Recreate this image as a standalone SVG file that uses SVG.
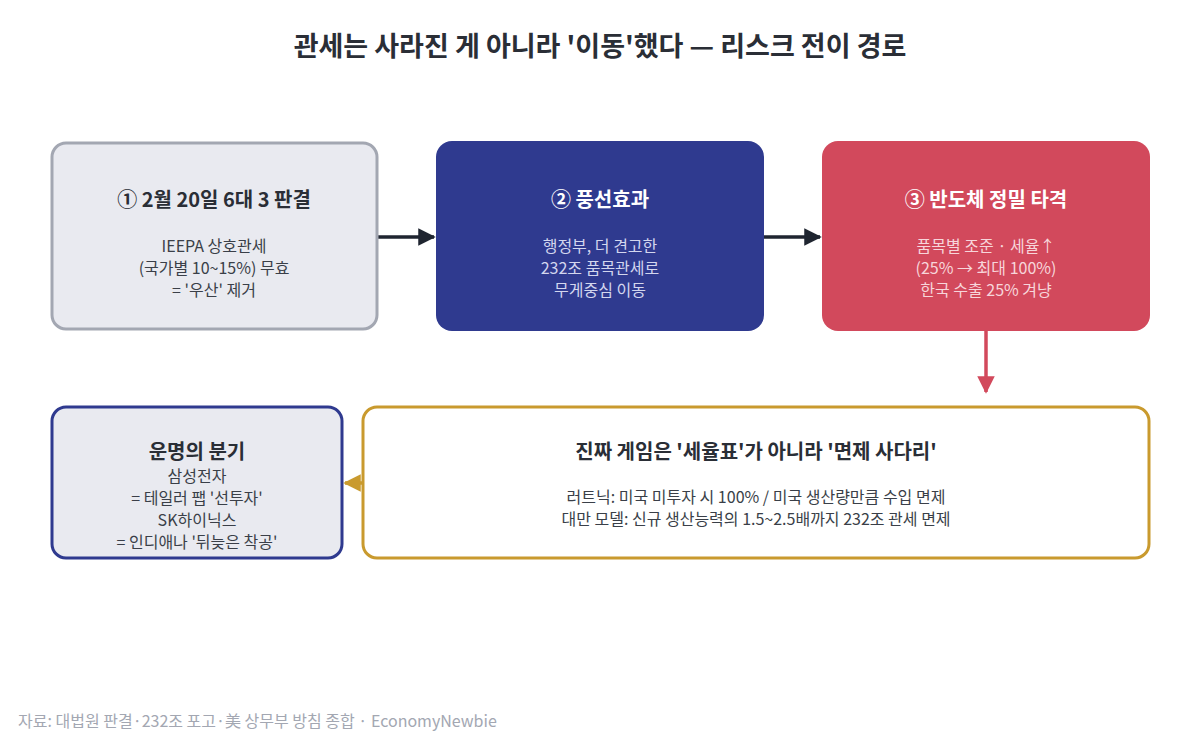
<svg xmlns="http://www.w3.org/2000/svg" width="1200" height="742" viewBox="0 0 1200 742">
<defs>
<style>
text{font-family:"Noto Sans CJK KR","Noto Sans",sans-serif;text-anchor:middle}
.title{font-size:27px;font-weight:700;fill:#2a2e36}
.h{font-size:20px;font-weight:700}
.b{font-size:16px}
.dark{fill:#2a2e36}
.body{fill:#3a3f48}
.w{fill:#ffffff}
.lav{fill:#d3d6ee}
.pink{fill:#f7d5da}
.foot{font-size:16px;fill:#a3a7b2;text-anchor:start}
</style>
<marker id="ahDark" viewBox="0 0 10 10" refX="9" refY="5" markerWidth="5" markerHeight="5" orient="auto" markerUnits="strokeWidth"><path d="M0,0L10,5L0,10z" fill="#1f2530"/></marker>
<marker id="ahRed" viewBox="0 0 10 10" refX="9" refY="5" markerWidth="5" markerHeight="5" orient="auto" markerUnits="strokeWidth"><path d="M0,0L10,5L0,10z" fill="#d2495c"/></marker>
<marker id="ahGold" viewBox="0 0 10 10" refX="9" refY="5" markerWidth="5" markerHeight="5" orient="auto" markerUnits="strokeWidth"><path d="M0,0L10,5L0,10z" fill="#c99a2e"/></marker>
</defs>
<rect width="1200" height="742" fill="#ffffff"/>
<text class="title" x="600" y="56">관세는 사라진 게 아니라 '이동'했다 — 리스크 전이 경로</text>

<g id="connectors">
<line x1="373" y1="237" x2="434" y2="237" stroke="#1f2530" stroke-width="3.5" marker-end="url(#ahDark)"/>
<line x1="762" y1="237" x2="820" y2="237" stroke="#1f2530" stroke-width="3.5" marker-end="url(#ahDark)"/>
<line x1="986" y1="331" x2="986" y2="392" stroke="#d2495c" stroke-width="3.5" marker-end="url(#ahRed)"/>
<line x1="368" y1="483" x2="345" y2="483" stroke="#c99a2e" stroke-width="3.5" marker-end="url(#ahGold)"/>
</g>

<g id="node1">
<rect x="52" y="143" width="325" height="186" rx="14" fill="#e9eaf0" stroke="#a3a7b2" stroke-width="3"/>
<text class="h dark" x="214" y="207">① 2월 20일 6대 3 판결</text>
<text class="b body" x="214" y="252">IEEPA 상호관세</text>
<text class="b body" x="214" y="274">(국가별 10~15%) 무효</text>
<text class="b body" x="214" y="296">= '우산' 제거</text>
</g>

<g id="node2">
<rect x="436" y="141" width="328" height="190" rx="16" fill="#2f3a8f"/>
<text class="h w" x="600" y="207">② 풍선효과</text>
<text class="b lav" x="600" y="252">행정부, 더 견고한</text>
<text class="b lav" x="600" y="274">232조 품목관세로</text>
<text class="b lav" x="600" y="296">무게중심 이동</text>
</g>

<g id="node3">
<rect x="822" y="141" width="328" height="190" rx="16" fill="#d2495c"/>
<text class="h w" x="986" y="207">③ 반도체 정밀 타격</text>
<text class="b pink" x="986" y="252">품목별 조준 · 세율↑</text>
<text class="b pink" x="986" y="274">(25% → 최대 100%)</text>
<text class="b pink" x="986" y="296">한국 수출 25% 겨냥</text>
</g>

<g id="node4">
<rect x="52" y="407" width="290" height="151" rx="14" fill="#e9eaf0" stroke="#2f3a8f" stroke-width="3"/>
<text class="h dark" x="197" y="459">운명의 분기</text>
<text class="b body" x="197" y="482">삼성전자</text>
<text class="b body" x="197" y="504">= 테일러 팹 '선투자'</text>
<text class="b body" x="197" y="526">SK하이닉스</text>
<text class="b body" x="197" y="548">= 인디애나 '뒤늦은 착공'</text>
</g>

<g id="node5">
<rect x="363" y="407" width="786" height="151" rx="14" fill="#ffffff" stroke="#c99a2e" stroke-width="3"/>
<text class="h dark" x="756" y="459">진짜 게임은 '세율표'가 아니라 '면제 사다리'</text>
<text class="b body" x="756" y="503">러트닉: 미국 미투자 시 100% / 미국 생산량만큼 수입 면제</text>
<text class="b body" x="756" y="525">대만 모델: 신규 생산능력의 1.5~2.5배까지 232조 관세 면제</text>
</g>

<text class="foot" x="18" y="727">자료: 대법원 판결·232조 포고·美 상무부 방침 종합 · EconomyNewbie</text>
</svg>
